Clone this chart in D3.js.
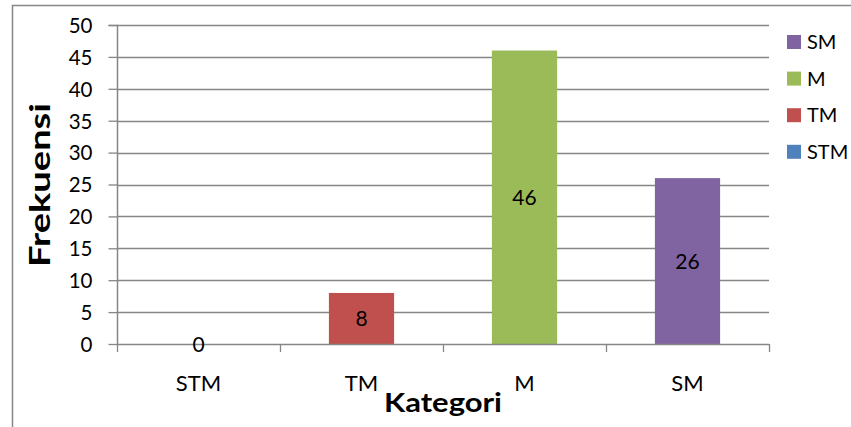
<!DOCTYPE html>
<html>
<head>
<meta charset="utf-8">
<script src="https://cdn.jsdelivr.net/npm/d3@7"></script>
<style>
  html, body { margin: 0; padding: 0; background: #fff; }
  svg { display: block; }
  text { font-family: Lato, "Open Sans", sans-serif; fill: #000; }
</style>
</head>
<body>
<svg id="chart" width="851" height="427"></svg>
<script>
// Frequency per category
const categories = ["STM", "TM", "M", "SM"];
const values = [0, 8, 46, 26];
const colors = ["#4F81BD", "#C0504D", "#9BBB59", "#8064A2"];
const yTicks = [0, 5, 10, 15, 20, 25, 30, 35, 40, 45, 50];
const xTitle = "Kategori";
const yTitle = "Frekuensi";

const svg = d3.select("#chart");
const gridColor = "#868686";

// chart frame
svg.append("rect")
  .attr("x", 12.5).attr("y", 5.5)
  .attr("width", 900).attr("height", 500)
  .attr("fill", "none").attr("stroke", gridColor).attr("stroke-width", 1.5);

const plot = { left: 117, right: 769, top: 25, bottom: 344 };

const x = d3.scaleBand().domain(categories)
  .range([plot.left, plot.right]).paddingInner(0.6).paddingOuter(0.3);
const xEdge = d3.scaleLinear().domain([0, categories.length]).range([plot.left, plot.right]);
const y = d3.scaleLinear().domain([0, 50]).range([plot.bottom, plot.top]);

// horizontal gridlines
svg.append("g").selectAll("line").data(yTicks.filter(t => t > 0)).join("line")
  .attr("x1", plot.left).attr("x2", plot.right)
  .attr("y1", d => Math.round(y(d)) + 0.5).attr("y2", d => Math.round(y(d)) + 0.5)
  .attr("stroke", gridColor).attr("stroke-width", 1.3);

// bars
svg.append("g").selectAll("rect").data(categories).join("rect")
  .attr("x", d => x(d))
  .attr("width", x.bandwidth())
  .attr("y", (d, i) => y(values[i]))
  .attr("height", (d, i) => y(0) - y(values[i]))
  .attr("fill", (d, i) => colors[i]);

// y axis
const yAxis = d3.axisLeft(y).tickValues(yTicks).tickSize(9).tickPadding(16);
const gy = svg.append("g").attr("transform", `translate(${plot.left + 0.5},0)`).call(yAxis);
gy.select(".domain").attr("stroke", gridColor).attr("stroke-width", 1.5)
  .attr("d", `M-9,${y(50) + 0.5}H0V${y(0)}`);
gy.selectAll(".tick line").attr("stroke", gridColor).attr("stroke-width", 1.3);
gy.selectAll(".tick text").style("font-size", "20.5px").attr("dy", "0.36em");

// x axis with ticks at category boundaries
svg.append("line")
  .attr("x1", plot.left).attr("x2", plot.right)
  .attr("y1", y(0) + 0.5).attr("y2", y(0) + 0.5)
  .attr("stroke", gridColor).attr("stroke-width", 1.5);
svg.append("g").selectAll("line").data(d3.range(categories.length + 1)).join("line")
  .attr("x1", d => Math.round(xEdge(d)) + 0.5).attr("x2", d => Math.round(xEdge(d)) + 0.5)
  .attr("y1", y(0)).attr("y2", y(0) + 8)
  .attr("stroke", gridColor).attr("stroke-width", 1.3);
svg.append("g").selectAll("text").data(categories).join("text")
  .attr("x", d => x(d) + x.bandwidth() / 2)
  .attr("y", 391)
  .attr("text-anchor", "middle")
  .style("font-size", "22px")
  .text(d => d);

// value labels centred in each bar
svg.append("g").selectAll("text").data(categories).join("text")
  .attr("x", d => x(d) + x.bandwidth() / 2)
  .attr("y", (d, i) => (y(values[i]) + y(0)) / 2)
  .attr("dy", "0.36em")
  .attr("text-anchor", "middle")
  .style("font-size", "21px")
  .text((d, i) => values[i]);

// axis titles
svg.append("text")
  .attr("x", 443).attr("y", 412)
  .attr("text-anchor", "middle")
  .attr("textLength", 118).attr("lengthAdjust", "spacingAndGlyphs")
  .style("font-size", "27px").style("font-weight", "bold")
  .text(xTitle);
svg.append("text")
  .attr("transform", "translate(50,185) rotate(-90)")
  .attr("text-anchor", "middle")
  .attr("textLength", 164).attr("lengthAdjust", "spacingAndGlyphs")
  .style("font-size", "28px").style("font-weight", "bold")
  .text(yTitle);

// legend, listed last category first
const legendItems = categories.map((c, i) => ({ c, color: colors[i] })).reverse();
const lg = svg.append("g").selectAll("g").data(legendItems).join("g")
  .attr("transform", (d, i) => `translate(787,${42 + i * 36.6})`);
lg.append("rect").attr("x", 0).attr("y", -7).attr("width", 14).attr("height", 14)
  .attr("fill", d => d.color);
lg.append("text").attr("x", 20).attr("dy", "0.36em")
  .style("font-size", "20px").text(d => d.c);
</script>
</body>
</html>
